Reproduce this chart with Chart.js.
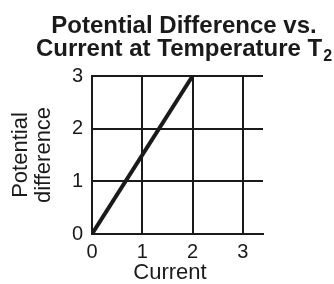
<!DOCTYPE html>
<html>
<head>
<meta charset="utf-8">
<script src="https://cdn.jsdelivr.net/npm/chart.js@4/dist/chart.umd.min.js"></script>
<style>
  body { margin: 0; background: #fff; }
  canvas { display: block; }
</style>
</head>
<body>
<canvas id="pdChart" width="334" height="284"></canvas>
<script>
// data
const currentValues = [0, 2];
const potentialValues = [0, 3];
const xTicks = [0, 1, 2, 3];
const yTicks = [0, 1, 2, 3];
const titleLine1 = 'Potential Difference vs.';
const titleLine2 = 'Current at Temperature T';
const titleSub = '2';
const xTitle = 'Current';

const FONT = '"Liberation Sans", Arial, Helvetica, sans-serif';
const INK = '#1a1a1a';

// two-line bold title with a real subscript, plus the x axis title
// (which sits a bit left of the plot centre in the original)
const titlePlugin = {
    id: 'subTitle',
    afterDraw(chart) {
        const ctx = chart.ctx;
        const cx = 184;
        ctx.save();
        ctx.fillStyle = INK;
        ctx.textBaseline = 'alphabetic';
        ctx.font = 'bold 24px ' + FONT;
        ctx.textAlign = 'center';
        ctx.fillText(titleLine1, cx, 33);

        const mainW = ctx.measureText(titleLine2).width;
        ctx.font = 'bold 16px ' + FONT;
        const subW = ctx.measureText(titleSub).width;
        const startX = cx - (mainW + subW + 1) / 2;
        ctx.textAlign = 'left';
        ctx.font = 'bold 24px ' + FONT;
        ctx.fillText(titleLine2, startX, 56);
        ctx.font = 'bold 16px ' + FONT;
        ctx.fillText(titleSub, startX + mainW + 1, 61);

        ctx.font = '22px ' + FONT;
        ctx.textAlign = 'center';
        ctx.fillText(xTitle, 170, 279);
        ctx.restore();
    }
};

const ctx = document.getElementById('pdChart').getContext('2d');
const chart = new Chart(ctx, {
    type: 'line',
    data: {
        datasets: [{
            data: currentValues.map((x, i) => ({ x: x, y: potentialValues[i] })),
            borderColor: INK,
            borderWidth: 4,
            pointRadius: 0,
            tension: 0,
            fill: false
        }]
    },
    options: {
        responsive: false,
        animation: false,
        layout: { padding: { top: 76, left: 0, right: 71, bottom: 0 } },
        plugins: {
            legend: { display: false },
            tooltip: { enabled: false }
        },
        scales: {
            x: {
                type: 'linear',
                min: 0,
                max: 3.4,
                afterBuildTicks: axis => { axis.ticks = xTicks.map(v => ({ value: v })); },
                afterFit: axis => { axis.height = 50; },
                grid: { color: INK, lineWidth: 2, drawTicks: false },
                border: { display: true, color: INK, width: 2 },
                ticks: {
                    color: INK,
                    padding: 6,
                    maxRotation: 0,
                    font: { family: FONT, size: 20 }
                },
                title: { display: false }
            },
            y: {
                type: 'linear',
                min: 0,
                max: 3,
                afterBuildTicks: axis => { axis.ticks = yTicks.map(v => ({ value: v })); },
                afterFit: axis => { axis.width = 92; },
                grid: { color: INK, lineWidth: 2, drawTicks: false },
                border: { display: true, color: INK, width: 2 },
                ticks: {
                    color: INK,
                    padding: 9,
                    font: { family: FONT, size: 20 }
                },
                title: {
                    display: true,
                    text: ['Potential', 'difference'],
                    color: INK,
                    padding: { top: 9, bottom: 0 },
                    font: { family: FONT, size: 22, lineHeight: 1.05 }
                }
            }
        }
    },
    plugins: [titlePlugin]
});
</script>
</body>
</html>
